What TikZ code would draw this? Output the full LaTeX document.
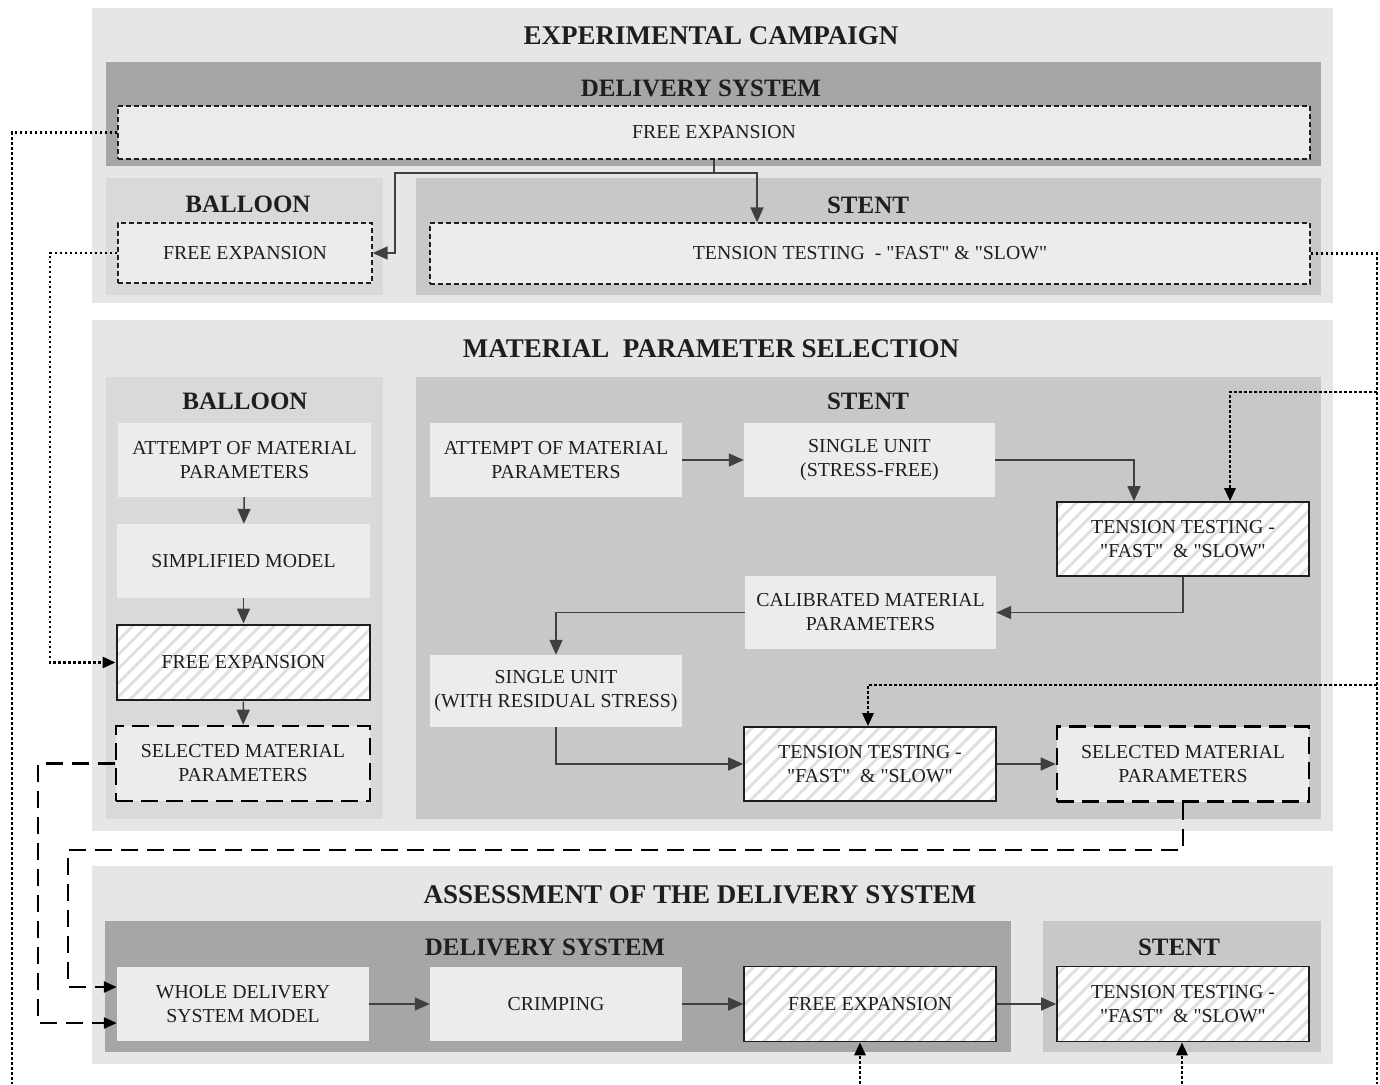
\documentclass[tikz,border=0pt]{standalone}
\usepackage{fontspec}
\setmainfont{Liberation Serif}[Ligatures=TeXOff]
\usetikzlibrary{arrows.meta,patterns.meta,calc}
\definecolor{panel}{HTML}{E6E6E6}
\definecolor{band}{HTML}{A6A6A6}
\definecolor{ball}{HTML}{D9D9D9}
\definecolor{stentc}{HTML}{C8C8C8}
\definecolor{boxc}{HTML}{ECECEC}
\definecolor{txt}{HTML}{1E1E1E}
\definecolor{arrc}{HTML}{404040}
\definecolor{hatch}{HTML}{E0E0E0}
\begin{document}
\begin{tikzpicture}[x=1pt,y=-1pt,
  txtbox/.style={text=txt, align=center, inner sep=0pt, font=\fontsize{19.8}{24}\selectfont},
  box/.style={txtbox, fill=boxc},
  thinbox/.style={box, draw=txt, line width=1.3pt, dash pattern=on 5pt off 3pt},
  hbox/.style={txtbox, draw=txt, line width=1.6pt, preaction={fill=white},
    pattern={Lines[angle=45,distance=10pt,line width=3pt]}, pattern color=hatch},
  selbox/.style={box, draw=black, line width=2.6pt, dash pattern=on 17pt off 8pt},
  title/.style={text=txt, font=\fontsize{27}{32}\selectfont\bfseries, inner sep=0pt},
  head/.style={text=txt, font=\fontsize{25}{30}\selectfont\bfseries, inner sep=0pt},
  tip/.style={-{Triangle[length=15pt,width=13pt]}},
  arr/.style={draw=arrc, line width=1.5pt, tip},
  dotl/.style={draw=black, line width=2.8pt, dash pattern=on 2.8pt off 2.2pt},
  dotarr/.style={dotl, -{Triangle[length=13pt,width=11pt]}},
  dasharr/.style={draw=black, line width=2.5pt, dash pattern=on 17pt off 9pt, -{Triangle[length=13pt,width=11pt]}},
]
\useasboundingbox (0,0) rectangle (1380,1084);
\fill[white] (0,0) rectangle (1380,1084);

% ---------- Panel 1 ----------
\fill[panel] (92,8) rectangle (1333,303);
\fill[band] (106,62) rectangle (1321,166);
\fill[ball] (106,178) rectangle (383,295);
\fill[stentc] (416,178) rectangle (1321,295);
\node[title] (t1) at (711,36) {EXPERIMENTAL CAMPAIGN};
\node[head] (h1) at (701,88) {DELIVERY SYSTEM};
\node[head] (h2) at (248,204) {BALLOON};
\node[head] (h3) at (868,205) {STENT};
\node[thinbox, minimum width=1192pt, minimum height=53pt] (fe1) at (714,132.5) {FREE EXPANSION};
\node[thinbox, minimum width=254pt, minimum height=60pt] (bfe) at (245,253) {FREE EXPANSION};
\node[thinbox, minimum width=880pt, minimum height=61pt] (tt1) at (870,253.5) {TENSION TESTING~ - "FAST" \& "SLOW"};

% ---------- Panel 2 ----------
\fill[panel] (92,320) rectangle (1333,831);
\fill[ball] (106,377) rectangle (383,819);
\fill[stentc] (416,377) rectangle (1321,819);
\node[title] (t2) at (711,349) {MATERIAL~ PARAMETER SELECTION};
\node[head] (h4) at (245,401) {BALLOON};
\node[head] (h5) at (868,401) {STENT};

\node[box, minimum width=253pt, minimum height=74pt] (ba1) at (244.5,460) {ATTEMPT OF MATERIAL\\PARAMETERS};
\node[box, minimum width=253pt, minimum height=74pt] (bsm) at (243.5,561) {SIMPLIFIED MODEL};
\node[hbox, minimum width=253pt, minimum height=75pt] (bfe2) at (243.5,662.5) {FREE EXPANSION};
\node[selbox, minimum width=254pt, minimum height=75pt] (bsel) at (243,763.5) {SELECTED MATERIAL\\PARAMETERS};

\node[box, minimum width=252pt, minimum height=74pt] (sa1) at (556,460) {ATTEMPT OF MATERIAL\\PARAMETERS};
\node[box, minimum width=251pt, minimum height=74pt] (su1) at (869.5,460) {SINGLE UNIT\\(STRESS-FREE)};
\node[hbox, minimum width=252pt, minimum height=74pt] (st1) at (1183,539) {TENSION TESTING -\\"FAST"~ \& "SLOW"};
\node[box, minimum width=251pt, minimum height=73pt] (cal) at (870.5,612.5) {CALIBRATED MATERIAL\\PARAMETERS};
\node[box, minimum width=252pt, minimum height=72pt] (su2) at (556,691) {SINGLE UNIT\\(WITH RESIDUAL STRESS)};
\node[hbox, minimum width=252pt, minimum height=74pt] (st2) at (870,764) {TENSION TESTING -\\"FAST"~ \& "SLOW"};
\node[selbox, minimum width=252pt, minimum height=75pt] (ssel) at (1183,764) {SELECTED MATERIAL\\PARAMETERS};

% ---------- Panel 3 ----------
\fill[panel] (92,866) rectangle (1333,1064);
\fill[band] (105,921) rectangle (1011,1052);
\fill[stentc] (1043,921) rectangle (1321,1052);
\node[title] (t3) at (700,895) {ASSESSMENT OF THE DELIVERY SYSTEM};
\node[head] (h6) at (545,947) {DELIVERY SYSTEM};
\node[head] (h7) at (1179,947) {STENT};

\node[box, minimum width=252pt, minimum height=74pt] (wds) at (243,1004) {WHOLE DELIVERY\\SYSTEM MODEL};
\node[box, minimum width=252pt, minimum height=74pt] (cr) at (556,1004) {CRIMPING};
\node[hbox, minimum width=252pt, minimum height=75pt] (fe3) at (870,1004) {FREE EXPANSION};
\node[hbox, minimum width=252pt, minimum height=75pt] (tt3) at (1183,1004) {TENSION TESTING -\\"FAST"~ \& "SLOW"};

% ---------- solid connectors ----------
\draw[arr] (fe1.south) |- (395,173) |- (bfe.east);
\draw[arr] (fe1.south) |- (757,173) -- (757,0 |- tt1.north);
\draw[arr] (ba1) -- (bsm);
\draw[arr] (bsm) -- (bfe2);
\draw[arr] (bfe2) -- (bsel);
\draw[arr] (sa1) -- (su1);
\draw[arr] (su1.east) -| (1134,0 |- st1.north);
\draw[arr] (st1.south) |- (cal.east);
\draw[arr] (cal.west) -| (su2.north);
\draw[arr] (su2.south) |- (st2.west);
\draw[arr] (st2) -- (ssel);
\draw[arr] (wds) -- (cr);
\draw[arr] (cr) -- (fe3);
\draw[arr] (fe3) -- (tt3);

% ---------- dotted connectors ----------
\coordinate (lbot) at (12,1084);
\coordinate (rbot) at (1377,1084);
\coordinate (rb1) at (1377,392);
\coordinate (rb2) at (1377,685);
\coordinate (b1) at (860,1084);
\coordinate (b2) at (1182,1084);
\draw[dotl] (fe1.west) -| (lbot);
\draw[dotl] (tt1.east) -| (rbot);
\draw[dotarr] (bfe.west) -| (50,0 |- bfe2.west) -- (bfe2.west);
\draw[dotarr] (rb1) -| (1230,0 |- st1.north);
\draw[dotarr] (rb2) -| (868,0 |- st2.north);
\draw[dotarr] (b1) -- (860,0 |- fe3.south);
\draw[dotarr] (b2) -- (1182,0 |- tt3.south);

% ---------- dashed connectors ----------
\draw[dasharr] (ssel.south) |- (68,850) |- ($(wds.west)+(0,-17)$);
\draw[dasharr] (bsel.west) -| (38,1023) -- ($(wds.west)+(0,19)$);
\end{tikzpicture}
\end{document}
